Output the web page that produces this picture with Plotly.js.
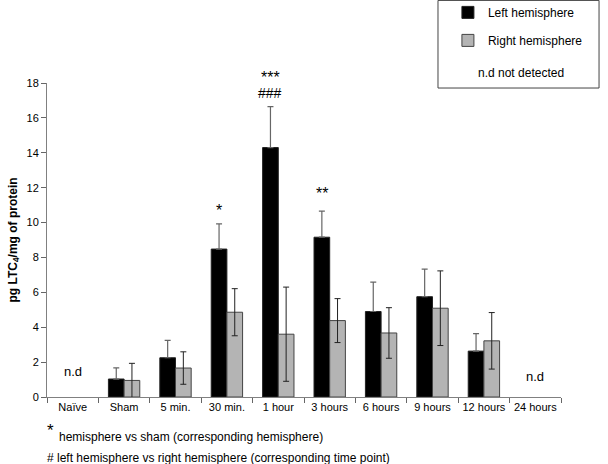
<!DOCTYPE html>
<html><head><meta charset="utf-8">
<script src="https://cdn.plot.ly/plotly-3.0.1.min.js"></script>
<style>body{margin:0}#c{width:608px;height:464px}</style>
</head><body><div id="c"></div>
<script>
var categories = ["Naïve","Sham","5 min.","30 min.","1 hour","3 hours","6 hours","9 hours","12 hours","24 hours"];
var leftValues  = [null, 1.03, 2.25, 8.48, 14.3, 9.16, 4.9, 5.75, 2.63, null];
var leftErr     = [null, 0.64, 1.0, 1.45, 2.35, 1.49, 1.69, 1.58, 1.0, null];
var rightValues = [null, 0.95, 1.66, 4.86, 3.6, 4.38, 3.67, 5.09, 3.22, null];
var rightErr    = [null, 0.98, 0.93, 1.35, 2.7, 1.26, 1.45, 2.14, 1.62, null];
var zeros = leftErr.map(function(){return 0;});

var font = "Liberation Sans, Arial, sans-serif";
var traces = [
 {type:"bar", name:"Left hemisphere", x:categories, y:leftValues, legendgroup:"a",
  marker:{color:"#000000", line:{color:"#222", width:1}},
  error_y:{type:"data", symmetric:false, array:leftErr, arrayminus:zeros, color:"#666", thickness:1.2, width:3}},
 {type:"bar", name:"Right hemisphere", x:categories, y:rightValues, legendgroup:"b",
  marker:{color:"#b4b4b4", line:{color:"#444", width:1}},
  error_y:{type:"data", array:rightErr, color:"#222", thickness:1, width:3}}
];
var ann = [
 {x:"Naïve", y:1.45, text:"n.d", showarrow:false, font:{size:13}},
 {x:"24 hours", y:1.16, text:"n.d", showarrow:false, font:{size:13}},
 {x:"30 min.", y:10.7, text:"*", showarrow:false, xshift:-8, font:{size:16}},
 {x:"1 hour", yref:"paper", y:1.05, text:"***", showarrow:false, xshift:-8, font:{size:16}},
 {x:"1 hour", y:17.4, text:"###", showarrow:false, xshift:-8, font:{size:14}},
 {x:"3 hours", y:11.67, text:"**", showarrow:false, xshift:-8, font:{size:16}},
 {xref:"paper", yref:"paper", x:-0.003, y:-0.108, xanchor:"left", yanchor:"middle", text:"*", showarrow:false, font:{size:17}},
 {xref:"paper", yref:"paper", x:0.02, y:-0.127, xanchor:"left", yanchor:"middle", text:"hemisphere vs sham (corresponding hemisphere)", showarrow:false, font:{size:12}},
 {xref:"paper", yref:"paper", x:-0.003, y:-0.195, xanchor:"left", yanchor:"middle", text:"# left hemisphere vs right hemisphere (corresponding time point)", showarrow:false, font:{size:12}},
 {xref:"paper", yref:"paper", x:0.922, y:1.032, xanchor:"center", yanchor:"middle", text:"n.d not detected", showarrow:false, font:{size:12}}
];
var layout = {
 width:608, height:464,
 margin:{l:47, r:47, t:83, b:67, autoexpand:false},
 paper_bgcolor:"#fff", plot_bgcolor:"#fff",
 font:{family:font, size:11, color:"#000"},
 barmode:"group", bargap:0.39, bargroupgap:0,
 showlegend:true,
 legend:{x:0.78, y:1.271, xanchor:"left", yanchor:"top", traceorder:"grouped", tracegroupgap:9,
   font:{size:12}, bgcolor:"rgba(0,0,0,0)", borderwidth:0},
 xaxis:{type:"category", tickson:"boundaries", ticks:"outside", ticklen:5, tickcolor:"#666", tickangle:0, automargin:false,
   showline:true, linecolor:"#808080", linewidth:1, showgrid:false, zeroline:false, tickfont:{size:11}},
 yaxis:{range:[0,18], dtick:2, ticks:"outside", ticklen:5, tickcolor:"#666", showline:true, automargin:true,
   linecolor:"#808080", linewidth:1, showgrid:false, zeroline:false, tickfont:{size:11},
   title:{text:"<b>pg LTC<sub>4</sub>/mg of protein</b>", font:{size:12}, standoff:6}},
 annotations:ann,
 shapes:[{type:"rect", xref:"paper", yref:"paper", x0:0.7607, x1:1.074, y0:0.984, y1:1.263,
   line:{color:"#444", width:1}, fillcolor:"rgba(0,0,0,0)"}]
};
Plotly.newPlot("c", traces, layout, {displayModeBar:false});
</script></body></html>
